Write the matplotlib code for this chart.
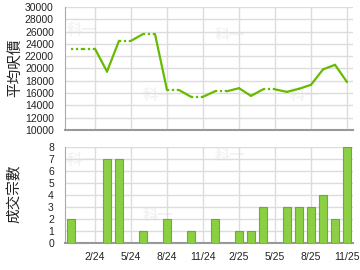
import matplotlib
matplotlib.use("Agg")
import matplotlib.pyplot as plt

months = ["12/23", "1/24", "2/24", "3/24", "4/24", "5/24", "6/24", "7/24", "8/24",
          "9/24", "10/24", "11/24", "12/24", "1/25", "2/25", "3/25", "4/25", "5/25",
          "6/25", "7/25", "8/25", "9/25", "10/25", "11/25"]
avg_price = [23200, None, None, 19500, 24500, None, 25600, None, 16500,
             None, 15400, None, 16300, None, 16800, 15550, 16600, None,
             16200, 16700, 17350, 19850, 20600, 17800]
volume = [2, 0, 0, 7, 7, 0, 1, 0, 2, 0, 1, 0, 2, 0, 1, 1, 3, 0, 3, 3, 3, 4, 2, 8]
tick_labels = ["2/24", "5/24", "8/24", "11/24", "2/25", "5/25", "8/25", "11/25"]

plt.rcParams['font.family'] = ['Liberation Sans', 'Noto Sans CJK TC', 'DejaVu Sans']
cjk = ['Noto Sans CJK TC', 'DejaVu Sans']

fig = plt.figure(figsize=(3.6, 2.7), dpi=100)
ax1_box = (65, 7, 353, 130)
ax2_box = (65, 147.3, 353, 243.3)
def rect(b):
    return [b[0]/360, 1-b[3]/270, (b[2]-b[0])/360, (b[3]-b[1])/270]
ax1 = fig.add_axes(rect(ax1_box))
ax2 = fig.add_axes(rect(ax2_box))

x = list(range(len(months)))
tick_pos = [months.index(t) for t in tick_labels]

line_color = '#66bb00'
filled = []
last = None
for v in avg_price:
    if v is not None:
        last = v
    filled.append(last)
for i in range(len(x) - 1):
    dotted = avg_price[i + 1] is None
    ax1.plot([x[i], x[i + 1]], [filled[i], filled[i + 1]], color=line_color,
             lw=1.6, linestyle=(0, (1, 1.2)) if dotted else '-',
             solid_capstyle='round', zorder=3)

for ax in (ax1, ax2):
    ax.set_xlim(-0.5, len(months) - 0.5)
    ax.set_xticks(tick_pos)
    ax.grid(True, color='#dcdcdc', lw=1, zorder=0)
    ax.set_axisbelow(True)
    for s in ('top', 'right'):
        ax.spines[s].set_visible(False)
    ax.spines['left'].set_color('#aaaaaa')
    ax.spines['bottom'].set_color('#999999')
    ax.spines['bottom'].set_linewidth(1.5)
    ax.tick_params(length=0, labelsize=7.5, colors='#222222')

ax1.set_ylim(10000, 30000)
ax1.set_yticks(range(10000, 30001, 2000))
ax1.tick_params(axis='x', labelbottom=False)
ax1.tick_params(axis='y', pad=8)

ax2.bar(x, volume, width=0.72, color='#8ccf45', edgecolor='#64b325', lw=0.8, zorder=3)
ax2.set_ylim(0, 8)
ax2.set_yticks(range(0, 9))
ax2.set_xticklabels(tick_labels)
ax2.tick_params(axis='y', pad=8)
ax2.tick_params(axis='x', pad=6)

fig.text(15/360, 1-68/270, '平均呎價', rotation=90, ha='center', va='center',
         fontsize=10.5, family=cjk, color='#222222')
fig.text(15/360, 1-194/270, '成交宗數', rotation=90, ha='center', va='center',
         fontsize=10.5, family=cjk, color='#222222')

# faint watermarks behind the data
def wm(ax, box, px, py):
    ax.text((px - box[0]) / (box[2] - box[0]), 1 - (py - box[1]) / (box[3] - box[1]),
            '科一', transform=ax.transAxes, ha='center', va='center', fontsize=11,
            family=cjk, fontweight='bold', color='#f3f3f3', zorder=0.3, clip_on=False)
for (px, py) in [(82, 30), (158, 95), (230, 35), (305, 95)]:
    wm(ax1, ax1_box, px, py)
for (px, py) in [(82, 160), (158, 215), (230, 155), (305, 215)]:
    wm(ax2, ax2_box, px, py)

fig.savefig('out.png', dpi=100)
